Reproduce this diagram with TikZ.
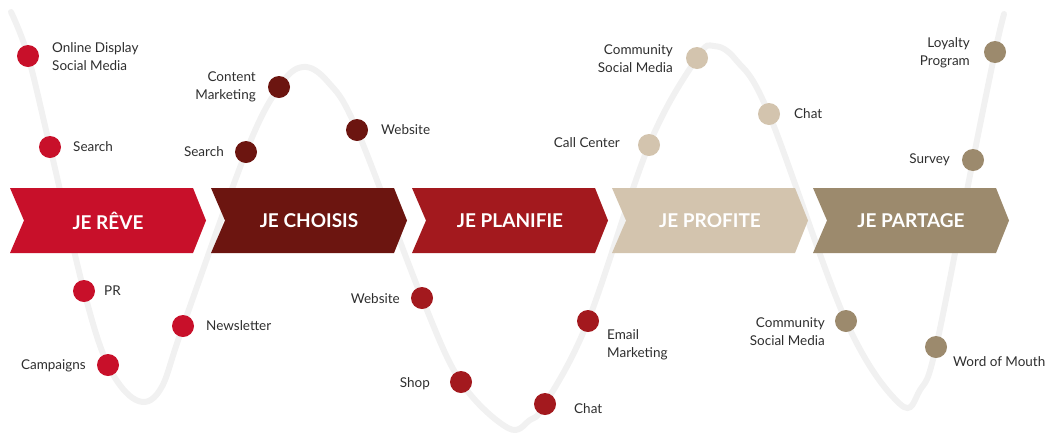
\documentclass[tikz,border=0pt]{standalone}
\usepackage{fontspec}
\setmainfont{Lato}
\definecolor{creve}{HTML}{C8102A}
\definecolor{cchoisis}{HTML}{6C1510}
\definecolor{cplanifie}{HTML}{A3191E}
\definecolor{cprofite}{HTML}{D3C4AE}
\definecolor{cpartage}{HTML}{9C8A6D}
\definecolor{wavegray}{HTML}{F1F1F1}
\definecolor{txt}{HTML}{2E2E2E}
\tikzset{
  dot/.style={circle, minimum size=22pt, inner sep=0pt},
  lbl/.style={text=txt, inner sep=0pt, font=\fontsize{13.5}{18}\selectfont},
  lblL/.style={lbl, anchor=west, align=left},
  lblR/.style={lbl, anchor=east, align=right},
  chevtext/.style={text=white, inner sep=0pt, font=\fontsize{19}{20}\selectfont\bfseries},
  wave/.style={draw=wavegray, line width=6pt, line cap=round}
}
\begin{document}
\begin{tikzpicture}[x=1pt,y=-1pt]
\useasboundingbox (0,0) rectangle (1048,432);
% background wave
\draw[wave] plot[smooth, tension=0.6] coordinates {
 (11,12) (28,56) (50,147) (84,291) (108,365) (136,400) (160,390) (183,326)
 (246,152) (279,87) (303,67) (328,82) (357,130) (422,298) (461,382) (508,428)
 (530,420) (545,404) (588,321) (649,145) (697,58) (714,46) (736,60) (769,114)
 (846,321) (900,404) (920,390) (936,347) (973,160) (995,52) (1004,14)};
% chevrons
\foreach \L/\c/\n in {10/creve/a,211/cchoisis/b,412/cplanifie/c,612/cprofite/d,813/cpartage/e}{
  \fill[\c] (\L,188) -- (\L+183,188) -- (\L+196,220.5) -- (\L+183,253) -- (\L,253) -- (\L+14,220.5) -- cycle;
}
\node[chevtext] (ca) at (108,220.5) {JE RÊVE};
\node[chevtext] (cb) at (309,220.5) {JE CHOISIS};
\node[chevtext] (cc) at (510,220.5) {JE PLANIFIE};
\node[chevtext] (cd) at (710,220.5) {JE PROFITE};
\node[chevtext] (ce) at (911,220.5) {JE PARTAGE};
% JE REVE dots
\node[dot, fill=creve] (r1) at (28,56) {};
\node[lblL] (r1l) at (52,57) {Online Display\\Social Media};
\node[dot, fill=creve] (r2) at (50,147) {};
\node[lblL] (r2l) at (73,147) {Search};
\node[dot, fill=creve] (r3) at (84,291) {};
\node[lblL] (r3l) at (104,291) {PR};
\node[dot, fill=creve] (r4) at (108,365) {};
\node[lblR] (r4l) at (86,366) {Campaigns};
\node[dot, fill=creve] (r5) at (183,326) {};
\node[lblL] (r5l) at (206,326) {Newsletter};
% JE CHOISIS dots
\node[dot, fill=cchoisis] (h1) at (246,152) {};
\node[lblR] (h1l) at (224,152) {Search};
\node[dot, fill=cchoisis] (h2) at (279,87) {};
\node[lblR] (h2l) at (256,87) {Content\\Marketing};
\node[dot, fill=cchoisis] (h3) at (357,130) {};
\node[lblL] (h3l) at (381,130) {Website};
% JE PLANIFIE dots
\node[dot, fill=cplanifie] (p1) at (422,298) {};
\node[lblR] (p1l) at (400,299) {Website};
\node[dot, fill=cplanifie] (p2) at (461,382) {};
\node[lblR] (p2l) at (430,384) {Shop};
\node[dot, fill=cplanifie] (p3) at (545,404) {};
\node[lblL] (p3l) at (574,409) {Chat};
\node[dot, fill=cplanifie] (p4) at (588,321) {};
\node[lblL] (p4l) at (607,345) {Email\\Marketing};
% JE PROFITE dots
\node[dot, fill=cprofite] (f1) at (649,145) {};
\node[lblR] (f1l) at (620,143) {Call Center};
\node[dot, fill=cprofite] (f2) at (697,58) {};
\node[lblR] (f2l) at (673,59) {Community\\Social Media};
\node[dot, fill=cprofite] (f3) at (769,114) {};
\node[lblL] (f3l) at (794,114) {Chat};
% JE PARTAGE dots
\node[dot, fill=cpartage] (t1) at (846,321) {};
\node[lblR] (t1l) at (825,332) {Community\\Social Media};
\node[dot, fill=cpartage] (t2) at (936,347) {};
\node[lblL] (t2l) at (953,362) {Word of Mouth};
\node[dot, fill=cpartage] (t3) at (973,160) {};
\node[lblR] (t3l) at (950,160) {Survey};
\node[dot, fill=cpartage] (t4) at (995,52) {};
\node[lblR] (t4l) at (970,53) {Loyalty\\Program};
\end{tikzpicture}
\end{document}
